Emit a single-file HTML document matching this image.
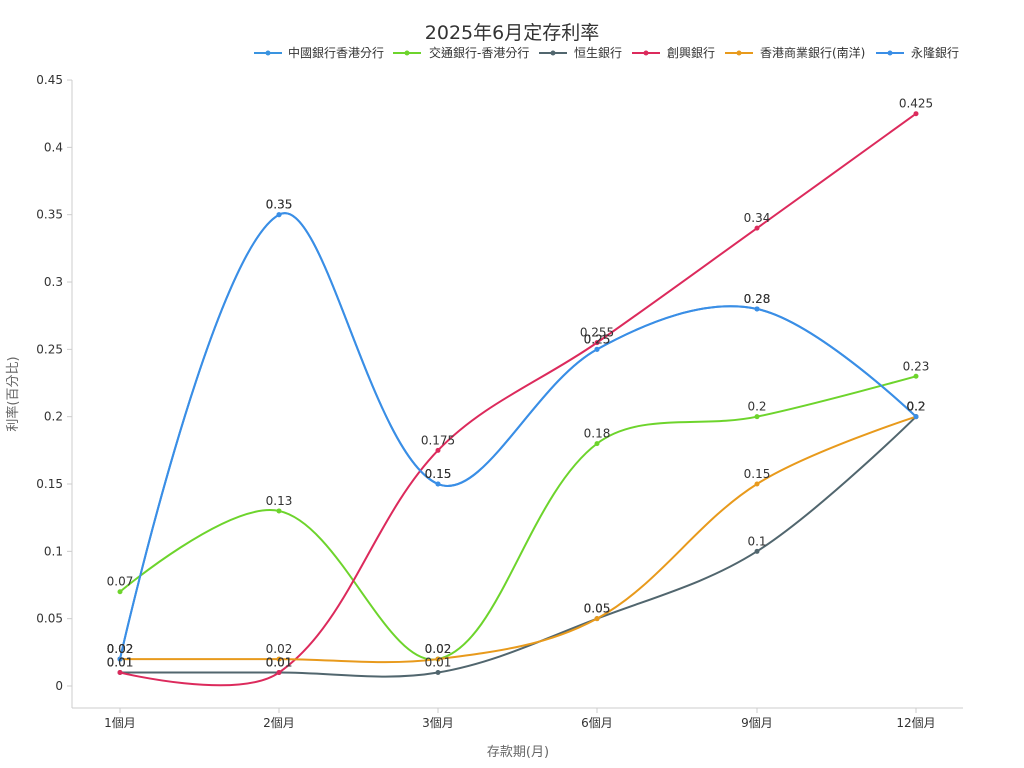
<!DOCTYPE html>
<html><head><meta charset="utf-8"><style>
html,body{margin:0;padding:0;background:#fff;}
svg{display:block;font-family:"DejaVu Sans","Noto Sans CJK TC",sans-serif;}
</style></head><body>
<svg id="c" width="1024" height="768" xmlns="http://www.w3.org/2000/svg">
<text x="512" y="39" text-anchor="middle" font-size="19" fill="#333">2025年6月定存利率</text>
<line x1="72" y1="80" x2="72" y2="708" stroke="#ccc"/>
<line x1="72" y1="708" x2="963" y2="708" stroke="#ccc"/>
<text transform="translate(17,394) rotate(-90)" text-anchor="middle" font-size="13" fill="#666">利率(百分比)</text>
<text x="518" y="756" text-anchor="middle" font-size="13" fill="#666">存款期(月)</text>
<g id="g"></g>
</svg>
<script>
var NS="http://www.w3.org/2000/svg",g=document.getElementById('g');
function el(t,a,txt){var e=document.createElementNS(NS,t);for(var k in a)e.setAttribute(k,a[k]);if(txt!=null)e.textContent=txt;g.appendChild(e);return e;}
function Y(v){return 686-v/0.05*67.33;}
var X=[120,279,438,597,757,916],cats=["1個月","2個月","3個月","6個月","9個月","12個月"];
for(var i=0;i<=9;i++){var v=i*0.05,y=Y(v);el('line',{x1:67,y1:y,x2:72,y2:y,stroke:'#ccc'});
el('text',{x:63,y:y+4,'text-anchor':'end','font-size':12,fill:'#333'},i==0?'0':String(+v.toFixed(2)));}
for(var i=0;i<6;i++){el('line',{x1:X[i],y1:708,x2:X[i],y2:713,stroke:'#ccc'});el('text',{x:X[i],y:727,'text-anchor':'middle','font-size':12,fill:'#333'},cats[i]);}
var S=[["中國銀行香港分行","#3a94e0",[0.02,0.35,0.15,0.25,0.28,0.2]],
["交通銀行-香港分行","#6dd42c",[0.07,0.13,0.02,0.18,0.2,0.23]],
["恒生銀行","#51666e",[0.01,0.01,0.01,0.05,0.1,0.2]],
["創興銀行","#dc2a5c",[0.01,0.01,0.175,0.255,0.34,0.425]],
["香港商業銀行(南洋)","#e89a1c",[0.02,0.02,0.02,0.05,0.15,0.2]],
["永隆銀行","#3a8ee6",[0.02,0.35,0.15,0.25,0.28,0.2]]];
var LX=[254,393,539,632,725,876],TX=[288,429,574,667,760,911];
var SM=0.35;
S.forEach(function(s,k){
 var p=s[2].map(function(v,i){return [X[i],Y(v)];}),n=p.length,cps=[];
 for(var i=0;i<n;i++){
  if(i==0||i==n-1){cps.push([p[i],p[i]]);continue;}
  var a=p[i-1],b=p[i],c=p[i+1],vx=c[0]-a[0],vy=c[1]-a[1];
  var d0=Math.hypot(b[0]-a[0],b[1]-a[1]),d1=Math.hypot(c[0]-b[0],c[1]-b[1]),sm=d0+d1;d0/=sm;d1/=sm;
  cps.push([[b[0]-vx*d0*SM,b[1]-vy*d0*SM],[b[0]+vx*d1*SM,b[1]+vy*d1*SM]]);
 }
 var d="M"+p[0][0]+","+p[0][1];
 for(var i=1;i<n;i++){var c1=cps[i-1][1],c2=cps[i][0];d+="C"+c1[0]+","+c1[1]+" "+c2[0]+","+c2[1]+" "+p[i][0]+","+p[i][1];}
 el('path',{d:d,fill:'none',stroke:s[1],'stroke-width':2});
 p.forEach(function(q){el('circle',{cx:q[0],cy:q[1],r:2.5,fill:s[1]});});
 el('line',{x1:LX[k],y1:53,x2:LX[k]+28,y2:53,stroke:s[1],'stroke-width':2});
 el('circle',{cx:LX[k]+14,cy:53,r:2.5,fill:s[1]});
 el('text',{x:TX[k],y:57,'font-size':12,fill:'#333'},s[0]);
});
S.forEach(function(s){s[2].forEach(function(v,i){el('text',{x:X[i],y:Y(v)-6,'text-anchor':'middle','font-size':12,fill:'#333'},String(v));});});
</script>
</body></html>
